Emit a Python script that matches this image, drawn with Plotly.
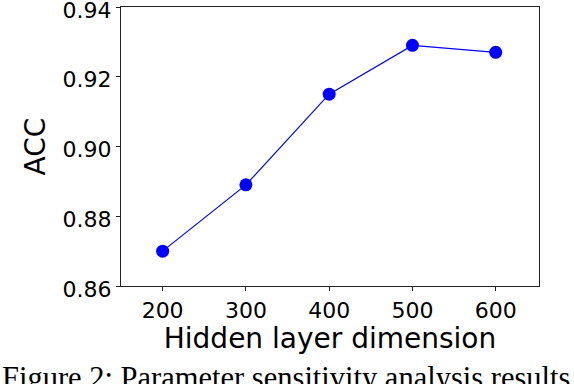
import plotly.graph_objects as go

hidden_dims = [200, 300, 400, 500, 600]
acc = [0.870, 0.889, 0.915, 0.929, 0.927]
x_ticks = [200, 300, 400, 500, 600]
y_ticks = [0.86, 0.88, 0.90, 0.92, 0.94]
y_tick_labels = ["0.86", "0.88", "0.90", "0.92", "0.94"]

fig = go.Figure()
fig.add_trace(go.Scatter(
    x=hidden_dims, y=acc, mode="lines+markers",
    line=dict(color="#0000ff", width=1.2),
    marker=dict(color="#0000ff", size=13),
    showlegend=False, cliponaxis=False,
))

axis_common = dict(
    showgrid=False, zeroline=False, showline=True, mirror=True,
    linecolor="#222222", linewidth=1.2, ticks="outside", ticklen=4,
    tickcolor="#222222", tickwidth=1.2, automargin=False,
    ticklabeloverflow="allow",
    tickfont=dict(family="DejaVu Sans", size=22, color="#000000"),
)

fig.update_xaxes(
    range=[150, 652], tickvals=x_ticks,
    title=dict(text="Hidden layer dimension", font=dict(family="DejaVu Sans", size=28, color="#000000"), standoff=4),
    **axis_common,
)
fig.update_yaxes(
    range=[0.86, 0.94], tickvals=y_ticks, ticktext=y_tick_labels,
    ticklabelshift=3,
    title=dict(text="ACC", font=dict(family="DejaVu Sans", size=28, color="#000000"), standoff=8),
    **axis_common,
)

fig.add_annotation(
    text="Figure 2: Parameter sensitivity analysis results.",
    xref="paper", yref="paper", x=-121/418.5, y=-73/279,
    xanchor="left", yanchor="top", showarrow=False,
    font=dict(family="Liberation Serif", size=30.5, color="#000000"),
)

fig.update_layout(
    width=574, height=384,
    margin=dict(l=121, r=34.5, t=7, b=98, autoexpand=False),
    paper_bgcolor="white", plot_bgcolor="white",
)

fig.write_html(
    "out.html",
    config={"displayModeBar": False},
    post_script="document.body.style.margin='0';document.body.style.overflow='hidden';",
)
